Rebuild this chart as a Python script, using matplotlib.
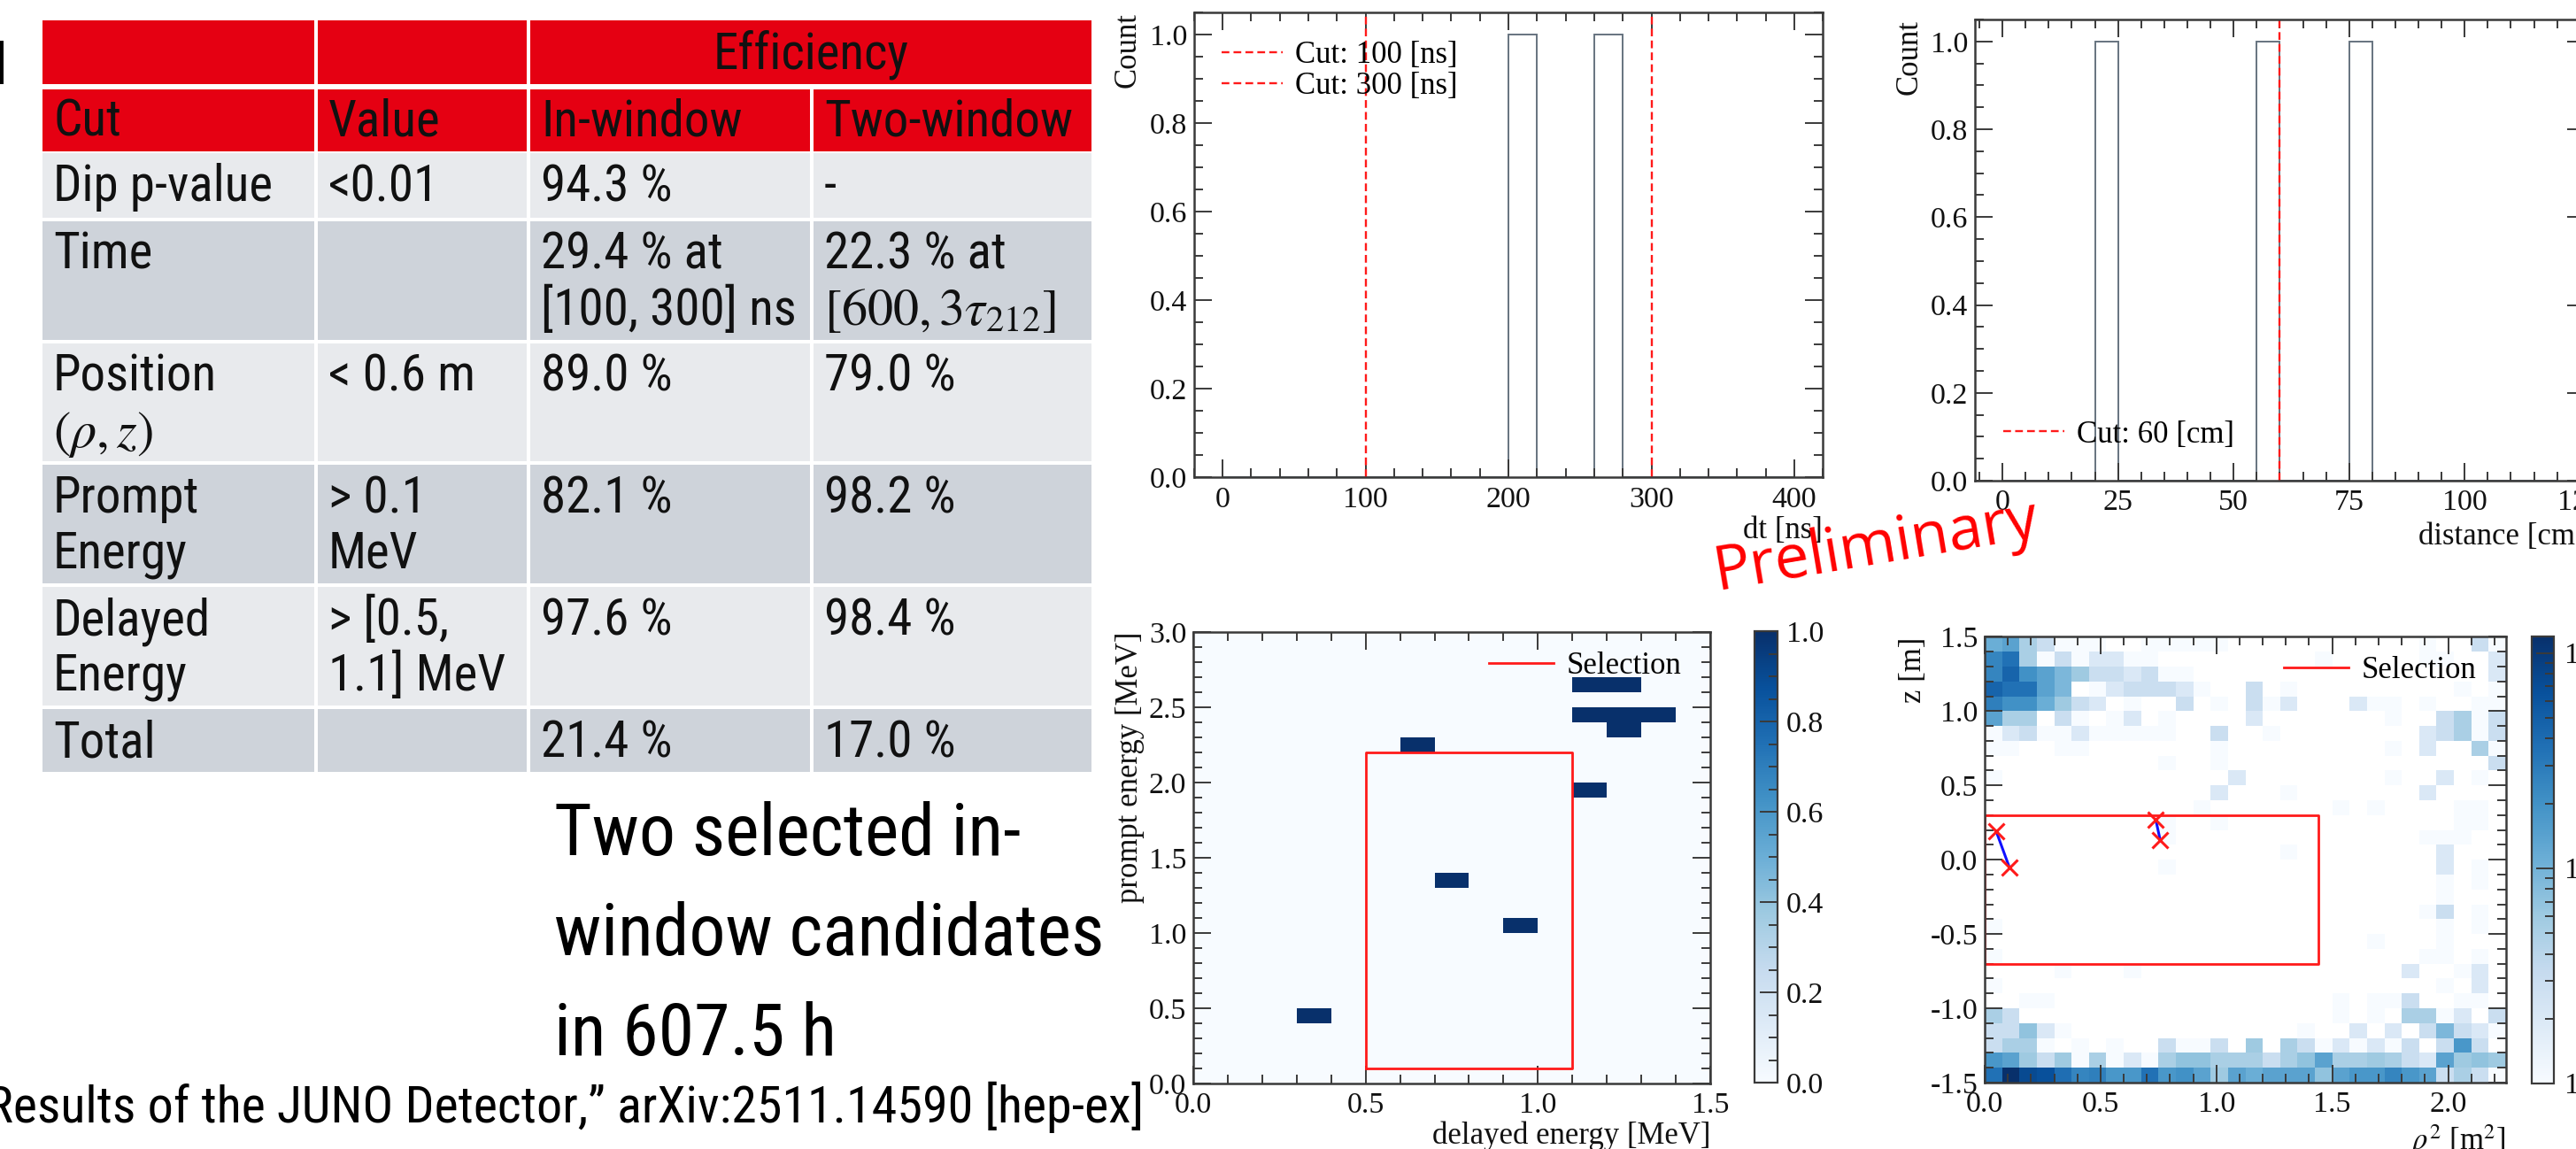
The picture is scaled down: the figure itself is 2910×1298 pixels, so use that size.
import os
import numpy as np
import matplotlib
matplotlib.use('Agg')
import matplotlib.pyplot as plt
from matplotlib import font_manager
from matplotlib.colors import LogNorm
from matplotlib.patches import Rectangle
from matplotlib.ticker import MultipleLocator, LogLocator

W, H = 2910, 1298
plt.rcParams['font.family'] = ['Liberation Serif', 'DejaVu Serif']
plt.rcParams['mathtext.fontset'] = 'stix'
plt.rcParams['axes.unicode_minus'] = False

# ---- table -----------------------------------------------------------------
table_group = 'Efficiency'
table_header = ['Cut', 'Value', 'In-window', 'Two-window']
table_cut = ['Dip p-value', 'Time', 'Position\n$(\\rho, z)$', 'Prompt\nEnergy',
             'Delayed\nEnergy', 'Total']
table_value = ['<0.01', '', '< 0.6 m', '> 0.1\nMeV', '> [0.5,\n1.1] MeV', '']
table_in_window = ['94.3 %', '29.4 % at\n[100, 300] ns', '89.0 %', '82.1 %',
                   '97.6 %', '21.4 %']
table_two_window = ['-', '22.3 % at\n$[600, 3\\tau_{212}]$', '79.0 %', '98.2 %',
                    '98.4 %', '17.0 %']
summary_lines = ['Two selected in-', 'window candidates', 'in 607.5 h']
citation = 'Results of the JUNO Detector,\u201d arXiv:2511.14590 [hep-ex]'

# ---- time difference histogram ----------------------------------------------
dt_edges = np.arange(0, 401, 20)
dt_counts = [0, 0, 0, 0, 0, 0, 0, 0, 0, 0, 1, 0, 0, 1, 0, 0, 0, 0, 0, 0]
dt_cuts = [100, 300]

# ---- distance histogram -----------------------------------------------------
dist_edges = np.arange(0, 121, 5)
dist_counts = [0, 0, 0, 0, 1, 0, 0, 0, 0, 0, 0, 1, 0, 0, 0, 1, 0, 0, 0, 0,
               0, 0, 0, 0]
dist_cut = 60

# ---- prompt vs delayed energy -----------------------------------------------
delayed_energy = [0.35, 0.65, 0.75, 0.95, 1.15, 1.15, 1.25, 1.15, 1.25, 1.35, 1.25]
prompt_energy = [0.45, 2.25, 1.35, 1.05, 1.95, 2.65, 2.65, 2.45, 2.45, 2.45, 2.35]
sel_delayed = (0.5, 1.1)
sel_prompt = (0.1, 2.2)

# ---- rho^2 vs z map (rows from z = 1.5 down to -1.5, 30 bins of rho^2) -------
rho_z_rows = [
    [11, 14, 5, 3, 1, 1, 1, 0, 0, 1, 1, 1, 1, 1, 0, 0, 0, 0, 0, 0, 0, 0, 0, 0, 0, 1, 0, 0, 3, 1],
    [25, 36, 5, 1, 3, 1, 2, 2, 1, 1, 0, 0, 0, 0, 0, 0, 0, 0, 0, 1, 0, 0, 0, 0, 0, 1, 1, 0, 0, 2],
    [25, 46, 20, 14, 9, 6, 3, 3, 2, 3, 1, 1, 0, 0, 0, 0, 0, 0, 0, 0, 0, 0, 0, 0, 0, 0, 0, 0, 0, 2],
    [46, 36, 36, 14, 9, 0, 1, 2, 3, 3, 3, 2, 1, 0, 0, 3, 0, 1, 0, 0, 0, 0, 0, 0, 0, 0, 0, 1, 0, 1],
    [28, 20, 20, 11, 6, 3, 2, 0, 1, 0, 0, 3, 0, 1, 0, 3, 1, 2, 0, 0, 0, 2, 1, 1, 0, 1, 0, 0, 1, 1],
    [14, 5, 5, 0, 3, 1, 0, 1, 2, 0, 1, 0, 0, 0, 0, 2, 0, 0, 0, 0, 0, 0, 0, 1, 0, 0, 3, 5, 1, 3],
    [1, 2, 3, 1, 1, 2, 1, 1, 1, 1, 1, 0, 0, 3, 0, 0, 1, 0, 0, 0, 0, 0, 0, 0, 0, 2, 3, 5, 1, 3],
    [1, 1, 0, 0, 1, 1, 0, 0, 0, 0, 0, 0, 0, 1, 0, 0, 0, 0, 0, 0, 0, 0, 0, 1, 0, 2, 0, 0, 5, 1],
    [0, 0, 0, 0, 0, 0, 0, 0, 0, 0, 1, 0, 0, 1, 0, 0, 0, 0, 0, 0, 0, 0, 0, 0, 0, 0, 0, 0, 0, 3],
    [1, 0, 0, 0, 0, 0, 0, 0, 0, 0, 0, 0, 0, 0, 2, 0, 0, 0, 0, 0, 0, 0, 0, 1, 0, 0, 2, 0, 1, 0],
    [0, 0, 0, 0, 0, 0, 0, 0, 0, 0, 0, 0, 0, 2, 0, 0, 0, 1, 0, 0, 0, 0, 0, 0, 0, 2, 0, 0, 0, 0],
    [0, 0, 0, 0, 0, 0, 0, 0, 0, 0, 0, 0, 1, 0, 0, 0, 0, 0, 0, 0, 1, 0, 1, 0, 0, 0, 0, 1, 1, 0],
    [0, 0, 0, 0, 0, 0, 0, 0, 0, 0, 1, 0, 0, 1, 0, 0, 0, 0, 0, 0, 0, 0, 0, 0, 0, 0, 0, 1, 1, 0],
    [0, 0, 0, 0, 0, 0, 0, 0, 0, 0, 1, 0, 0, 0, 0, 0, 0, 0, 0, 0, 0, 0, 0, 0, 0, 1, 1, 1, 0, 0],
    [0, 0, 0, 0, 0, 0, 0, 0, 0, 0, 0, 0, 0, 0, 0, 0, 0, 1, 0, 0, 0, 0, 0, 0, 0, 0, 2, 0, 0, 0],
    [0, 0, 0, 0, 0, 0, 0, 0, 0, 0, 1, 0, 0, 0, 0, 0, 0, 0, 0, 0, 0, 0, 0, 0, 0, 0, 2, 0, 1, 0],
    [0, 0, 0, 0, 0, 0, 0, 0, 0, 0, 0, 0, 0, 0, 0, 0, 0, 0, 0, 0, 0, 0, 0, 0, 0, 0, 1, 0, 1, 0],
    [0, 0, 0, 0, 0, 0, 0, 0, 0, 0, 0, 0, 0, 0, 0, 0, 0, 0, 0, 0, 0, 0, 0, 0, 0, 0, 1, 0, 0, 0],
    [0, 0, 0, 0, 0, 0, 0, 0, 0, 0, 0, 0, 0, 0, 0, 0, 0, 0, 0, 0, 0, 0, 0, 0, 0, 1, 3, 0, 1, 0],
    [1, 0, 0, 0, 0, 0, 0, 0, 0, 0, 0, 0, 0, 0, 0, 0, 0, 0, 0, 0, 0, 0, 0, 0, 0, 0, 1, 0, 1, 0],
    [0, 0, 0, 0, 0, 0, 0, 0, 0, 0, 0, 0, 0, 0, 0, 0, 0, 0, 0, 0, 0, 0, 1, 0, 0, 0, 1, 0, 0, 0],
    [1, 0, 0, 0, 0, 0, 0, 0, 0, 0, 0, 0, 0, 0, 0, 0, 0, 0, 0, 0, 0, 0, 0, 0, 0, 1, 1, 0, 1, 0],
    [0, 0, 0, 0, 1, 0, 0, 0, 1, 0, 0, 0, 0, 0, 0, 0, 0, 0, 0, 0, 0, 0, 0, 0, 2, 0, 0, 1, 2, 0],
    [1, 0, 0, 0, 0, 0, 0, 0, 0, 0, 0, 0, 0, 0, 0, 0, 0, 0, 0, 0, 0, 0, 0, 0, 0, 0, 1, 0, 2, 0],
    [0, 0, 1, 1, 0, 0, 0, 0, 0, 0, 0, 0, 0, 0, 0, 0, 0, 0, 0, 0, 1, 0, 1, 1, 3, 0, 0, 1, 1, 0],
    [5, 3, 0, 0, 0, 0, 0, 0, 0, 0, 0, 0, 0, 0, 0, 0, 0, 0, 0, 0, 1, 0, 1, 0, 5, 5, 1, 2, 0, 3],
    [3, 3, 7, 2, 1, 0, 0, 0, 0, 0, 0, 0, 0, 0, 0, 0, 0, 0, 1, 0, 0, 2, 0, 2, 0, 3, 9, 3, 2, 1],
    [3, 5, 5, 1, 0, 1, 0, 1, 0, 0, 3, 1, 1, 3, 0, 6, 0, 5, 3, 1, 2, 1, 2, 1, 3, 0, 3, 18, 3, 0],
    [18, 14, 6, 3, 6, 1, 5, 1, 2, 1, 5, 7, 7, 5, 5, 5, 3, 5, 7, 14, 5, 5, 6, 5, 3, 2, 14, 6, 7, 6],
    [36, 120, 74, 66, 38, 25, 28, 18, 18, 36, 18, 20, 14, 6, 14, 11, 14, 14, 14, 7, 14, 18, 18, 25, 18, 14, 3, 5, 3, 1],
]
sel_rho2 = (0.0, 1.44)
sel_z = (-0.7, 0.3)
cand_rho2 = [[0.05, 0.107], [0.738, 0.757]]
cand_z = [[0.19, -0.053], [0.272, 0.135]]

# ---- styling ----------------------------------------------------------------
FRAME = '#3a3a3a'
HIST = '#66737f'
RED = '#ff1a1a'
TICK_FS = 24.5
LAB_FS = 25


def has_font(name):
    try:
        font_manager.findfont(font_manager.FontProperties(family=name),
                              fallback_to_default=False)
        return True
    except ValueError:
        return False


def pick_condensed_sans():
    """The slide text is a narrow sans; use a condensed face when one exists."""
    for fam in ['Liberation Sans Narrow', 'Roboto Condensed',
                'Noto Sans Condensed', 'Open Sans Condensed',
                'DejaVu Sans Condensed']:
        if has_font(fam):
            return fam, 'normal'
    for fam in ['Noto Sans', 'DejaVu Sans', 'Open Sans', 'Roboto']:
        try:
            path = font_manager.findfont(
                font_manager.FontProperties(family=fam, stretch='condensed'),
                fallback_to_default=False)
        except ValueError:
            continue
        name = os.path.basename(path)
        if 'ondensed' in name or 'Narrow' in name:
            return fam, 'condensed'
    return 'Liberation Sans', 'normal'


SANS_FAMILY, SANS_STRETCH = pick_condensed_sans()
SANS = [SANS_FAMILY, 'Liberation Sans', 'DejaVu Sans']

fig = plt.figure(figsize=(W / 100, H / 100), dpi=100)
renderer = fig.canvas.get_renderer()


def fit_size(text, target_px, **kw):
    """font size (pt) at which `text` is target_px wide in the chosen face."""
    t = fig.text(0, 0, text, fontsize=10, **kw)
    width = t.get_window_extent(renderer).width
    t.remove()
    return 10 * target_px / width


sans_kw = dict(family=SANS, fontstretch=SANS_STRETCH)
TFS = np.mean([fit_size('[100, 300] ns', 284, **sans_kw),
               fit_size('Two-window', 277, **sans_kw),
               fit_size('Dip p-value', 252, **sans_kw)])
BIG = fit_size(summary_lines[1], 618, **sans_kw)
CIT = fit_size(citation, 1300, **sans_kw)
MATH_FS = fit_size('$[600, 3\\tau_{212}]$', 268)


def px_axes(x0, y0, x1, y1):
    return fig.add_axes([x0 / W, 1 - y1 / H, (x1 - x0) / W, (y1 - y0) / H])


def px_fig(x, y):
    return (x / W, 1 - y / H)


def root_style(ax, xmaj, xmin, ymaj, ymin):
    ax.xaxis.set_major_locator(MultipleLocator(xmaj))
    ax.xaxis.set_minor_locator(MultipleLocator(xmin))
    ax.yaxis.set_major_locator(MultipleLocator(ymaj))
    ax.yaxis.set_minor_locator(MultipleLocator(ymin))
    ax.tick_params(which='both', direction='in', top=True, right=True,
                   color=FRAME, width=1.4, labelsize=TICK_FS,
                   labelcolor='#111111')
    ax.tick_params(which='major', length=14.4)
    ax.tick_params(which='minor', length=7.5)
    ax.tick_params(axis='x', which='both', pad=7)
    ax.tick_params(axis='y', which='both', pad=5.5)
    for s in ax.spines.values():
        s.set_linewidth(1.8)
        s.set_color(FRAME)


def root_labels(ax, box, xlabel, ylabel, xlab_top, ylab_right):
    x0, y0, x1, y1 = box
    ax.set_xlabel(xlabel, loc='right', fontsize=LAB_FS, color='#111111')
    ax.set_ylabel(ylabel, loc='top', fontsize=LAB_FS, color='#111111')
    ax.xaxis.set_label_coords(1.0, -(xlab_top - y1) / (y1 - y0))
    ax.yaxis.set_label_coords((ylab_right - x0) / (x1 - x0), 1.0)


def style_cbar(cax):
    cax.tick_params(which='both', direction='in', right=True, left=False,
                    color=FRAME, width=1.4, labelsize=TICK_FS, pad=7,
                    labelcolor='#111111')
    cax.tick_params(which='major', length=14.4)
    cax.tick_params(which='minor', length=7.5)


# ---- slide canvas: table and text -------------------------------------------
canvas = fig.add_axes([0, 0, 1, 1], zorder=-5)
canvas.set_xlim(0, W)
canvas.set_ylim(H, 0)
canvas.axis('off')

col_x = [46, 357, 597, 917, 1235]
row_y = [171, 248, 386, 523, 661, 799, 874]
HEAD_RED = '#e50012'
ROW_LIGHT = '#e8eaed'
ROW_DARK = '#ced3da'
GAP = 1.6


def cell(x0, y0, x1, y1, color):
    canvas.add_patch(Rectangle((x0 + GAP, y0 + GAP), x1 - x0 - 2 * GAP,
                               y1 - y0 - 2 * GAP, facecolor=color,
                               edgecolor='none'))


def cell_text(x, top, text):
    for i, line in enumerate(text.split('\n')):
        size = MATH_FS if line.startswith('$') else TFS
        canvas.text(x, top + 56 + 63 * i, line, fontsize=size, ha='left',
                    va='baseline', color='#111111', **sans_kw)


# header row 1
cell(col_x[0], 21, col_x[1], 97, HEAD_RED)
cell(col_x[1], 21, col_x[2], 97, HEAD_RED)
cell(col_x[2], 21, col_x[4], 97, HEAD_RED)
canvas.text((col_x[2] + col_x[4]) / 2, 78, table_group, fontsize=TFS,
            ha='center', va='baseline', color='#111111', **sans_kw)
# header row 2
for c in range(4):
    cell(col_x[c], 99, col_x[c + 1], 173, HEAD_RED)
    cell_text(col_x[c] + 14, 97, table_header[c])
# body
columns = [table_cut, table_value, table_in_window, table_two_window]
for r in range(len(table_cut)):
    color = ROW_LIGHT if r % 2 == 0 else ROW_DARK
    for c in range(4):
        cell(col_x[c], row_y[r], col_x[c + 1], row_y[r + 1], color)
        cell_text(col_x[c] + 14, row_y[r], columns[c][r])

# clipped letter at the very left edge
canvas.add_patch(Rectangle((0, 46), 4, 49, facecolor='black', edgecolor='none'))

for i, line in enumerate(summary_lines):
    canvas.text(626, 966 + 113 * i, line, fontsize=BIG, ha='left',
                va='baseline', color='#000000', **sans_kw)
canvas.text(1292, 1268, citation, fontsize=CIT, ha='right', va='baseline',
            color='#000000', **sans_kw)

# ---- (1) dt histogram -------------------------------------------------------
box1 = (1348.7, 14.3, 2059.3, 539.3)
ax1 = px_axes(*box1)
ax1.stairs(dt_counts, dt_edges, color=HIST, lw=1.4)
for c in dt_cuts:
    ax1.axvline(c, color=RED, ls=(0, (3.7, 2)), lw=1.7,
                label=f'Cut: {c} [ns]')
ax1.set_xlim(-20, 420)
ax1.set_ylim(0, 1.05)
root_style(ax1, 100, 20, 0.2, 0.05)
root_labels(ax1, box1, 'dt [ns]', 'Count', 583, 1291)
ax1.legend(loc='upper left', bbox_to_anchor=px_fig(1380, 46),
           bbox_transform=fig.transFigure, frameon=False, fontsize=LAB_FS,
           borderpad=0, borderaxespad=0, handlelength=2.0,
           handletextpad=0.4, labelspacing=0.05)

# ---- (2) distance histogram -------------------------------------------------
box2 = (2230.8, 22, 2920, 543)
ax2 = px_axes(*box2)
ax2.stairs(dist_counts, dist_edges, color=HIST, lw=1.4)
ax2.axvline(dist_cut, color=RED, ls=(0, (3.7, 2)), lw=1.7,
            label=f'Cut: {dist_cut} [cm]')
ax2.set_xlim(-6, 126)
ax2.set_ylim(0, 1.05)
root_style(ax2, 25, 5, 0.2, 0.05)
root_labels(ax2, box2, 'distance [cm]', 'Count', 590, 2174)
ax2.legend(loc='upper left', bbox_to_anchor=px_fig(2263, 474.5),
           bbox_transform=fig.transFigure, frameon=False, fontsize=LAB_FS,
           borderpad=0, borderaxespad=0, handlelength=2.0,
           handletextpad=0.4)

# ---- (3) prompt vs delayed energy -------------------------------------------
box3 = (1348, 714, 1932, 1224)
ax3 = px_axes(*box3)
de_edges = np.linspace(0, 1.5, 16)
pe_edges = np.linspace(0, 3.0, 31)
counts3, _, _ = np.histogram2d(delayed_energy, prompt_energy,
                               bins=[de_edges, pe_edges])
m3 = ax3.pcolormesh(de_edges, pe_edges, counts3.T, cmap='Blues', vmin=0,
                    vmax=1)
ax3.plot([sel_delayed[0], sel_delayed[1], sel_delayed[1], sel_delayed[0],
          sel_delayed[0]],
         [sel_prompt[0], sel_prompt[0], sel_prompt[1], sel_prompt[1],
          sel_prompt[0]], color=RED, lw=2.0, label='Selection')
ax3.set_xlim(0, 1.5)
ax3.set_ylim(0, 3.0)
root_style(ax3, 0.5, 0.1, 0.5, 0.1)
root_labels(ax3, box3, 'delayed energy [MeV]', 'prompt energy [MeV]', 1266,
            1293)
ax3.legend(loc='upper right', bbox_to_anchor=px_fig(1899, 736),
           bbox_transform=fig.transFigure, frameon=False, fontsize=LAB_FS,
           borderpad=0, borderaxespad=0, handlelength=2.1,
           handletextpad=0.4)
cax3 = px_axes(1982, 713, 2008, 1223)
cb3 = fig.colorbar(m3, cax=cax3)
cb3.set_ticks(np.arange(0, 1.01, 0.2))
cax3.yaxis.set_minor_locator(MultipleLocator(0.05))
cb3.outline.set_linewidth(1.6)
cb3.outline.set_edgecolor(FRAME)
style_cbar(cax3)

# ---- (4) rho^2 vs z map -----------------------------------------------------
box4 = (2242, 719.4, 2831, 1223)
ax4 = px_axes(*box4)
rho2_edges = np.linspace(0, 2.25, 31)
z_edges = np.linspace(-1.5, 1.5, 31)
counts4 = np.array(rho_z_rows, dtype=float)[::-1]
m4 = ax4.pcolormesh(rho2_edges, z_edges, np.ma.masked_less(counts4, 1),
                    cmap='Blues', norm=LogNorm(vmin=1, vmax=120))
ax4.plot([sel_rho2[0], sel_rho2[1], sel_rho2[1], sel_rho2[0], sel_rho2[0]],
         [sel_z[0], sel_z[0], sel_z[1], sel_z[1], sel_z[0]], color=RED, lw=2.0,
         label='Selection')
for xs, zs in zip(cand_rho2, cand_z):
    ax4.plot(xs, zs, color='#1010ff', lw=2.2, zorder=4)
    ax4.plot(xs, zs, ls='none', marker='x', ms=13, mew=2.2, color=RED,
             zorder=5)
ax4.set_xlim(0, 2.25)
ax4.set_ylim(-1.5, 1.5)
root_style(ax4, 0.5, 0.1, 0.5, 0.1)
root_labels(ax4, box4, '$\\rho^2$ [m$^2$]', 'z [m]', 1268, 2178)
ax4.legend(loc='upper right', bbox_to_anchor=px_fig(2797, 741),
           bbox_transform=fig.transFigure, frameon=False, fontsize=LAB_FS,
           borderpad=0, borderaxespad=0, handlelength=2.1,
           handletextpad=0.4)
cax4 = px_axes(2860, 718.5, 2885, 1224)
cb4 = fig.colorbar(m4, cax=cax4)
cax4.yaxis.set_minor_locator(LogLocator(subs=np.arange(2, 10)))
cb4.outline.set_linewidth(1.6)
cb4.outline.set_edgecolor(FRAME)
style_cbar(cax4)
cax4.tick_params(pad=8)

# ---- watermark ----------------------------------------------------------------
fig.text(*px_fig(2119, 618), 'Preliminary', rotation=9.5, ha='center',
         va='center', rotation_mode='anchor', fontsize=50,
         family=['Open Sans', 'DejaVu Sans'], color='#ff0000')

fig.savefig('out.png', dpi=100)
